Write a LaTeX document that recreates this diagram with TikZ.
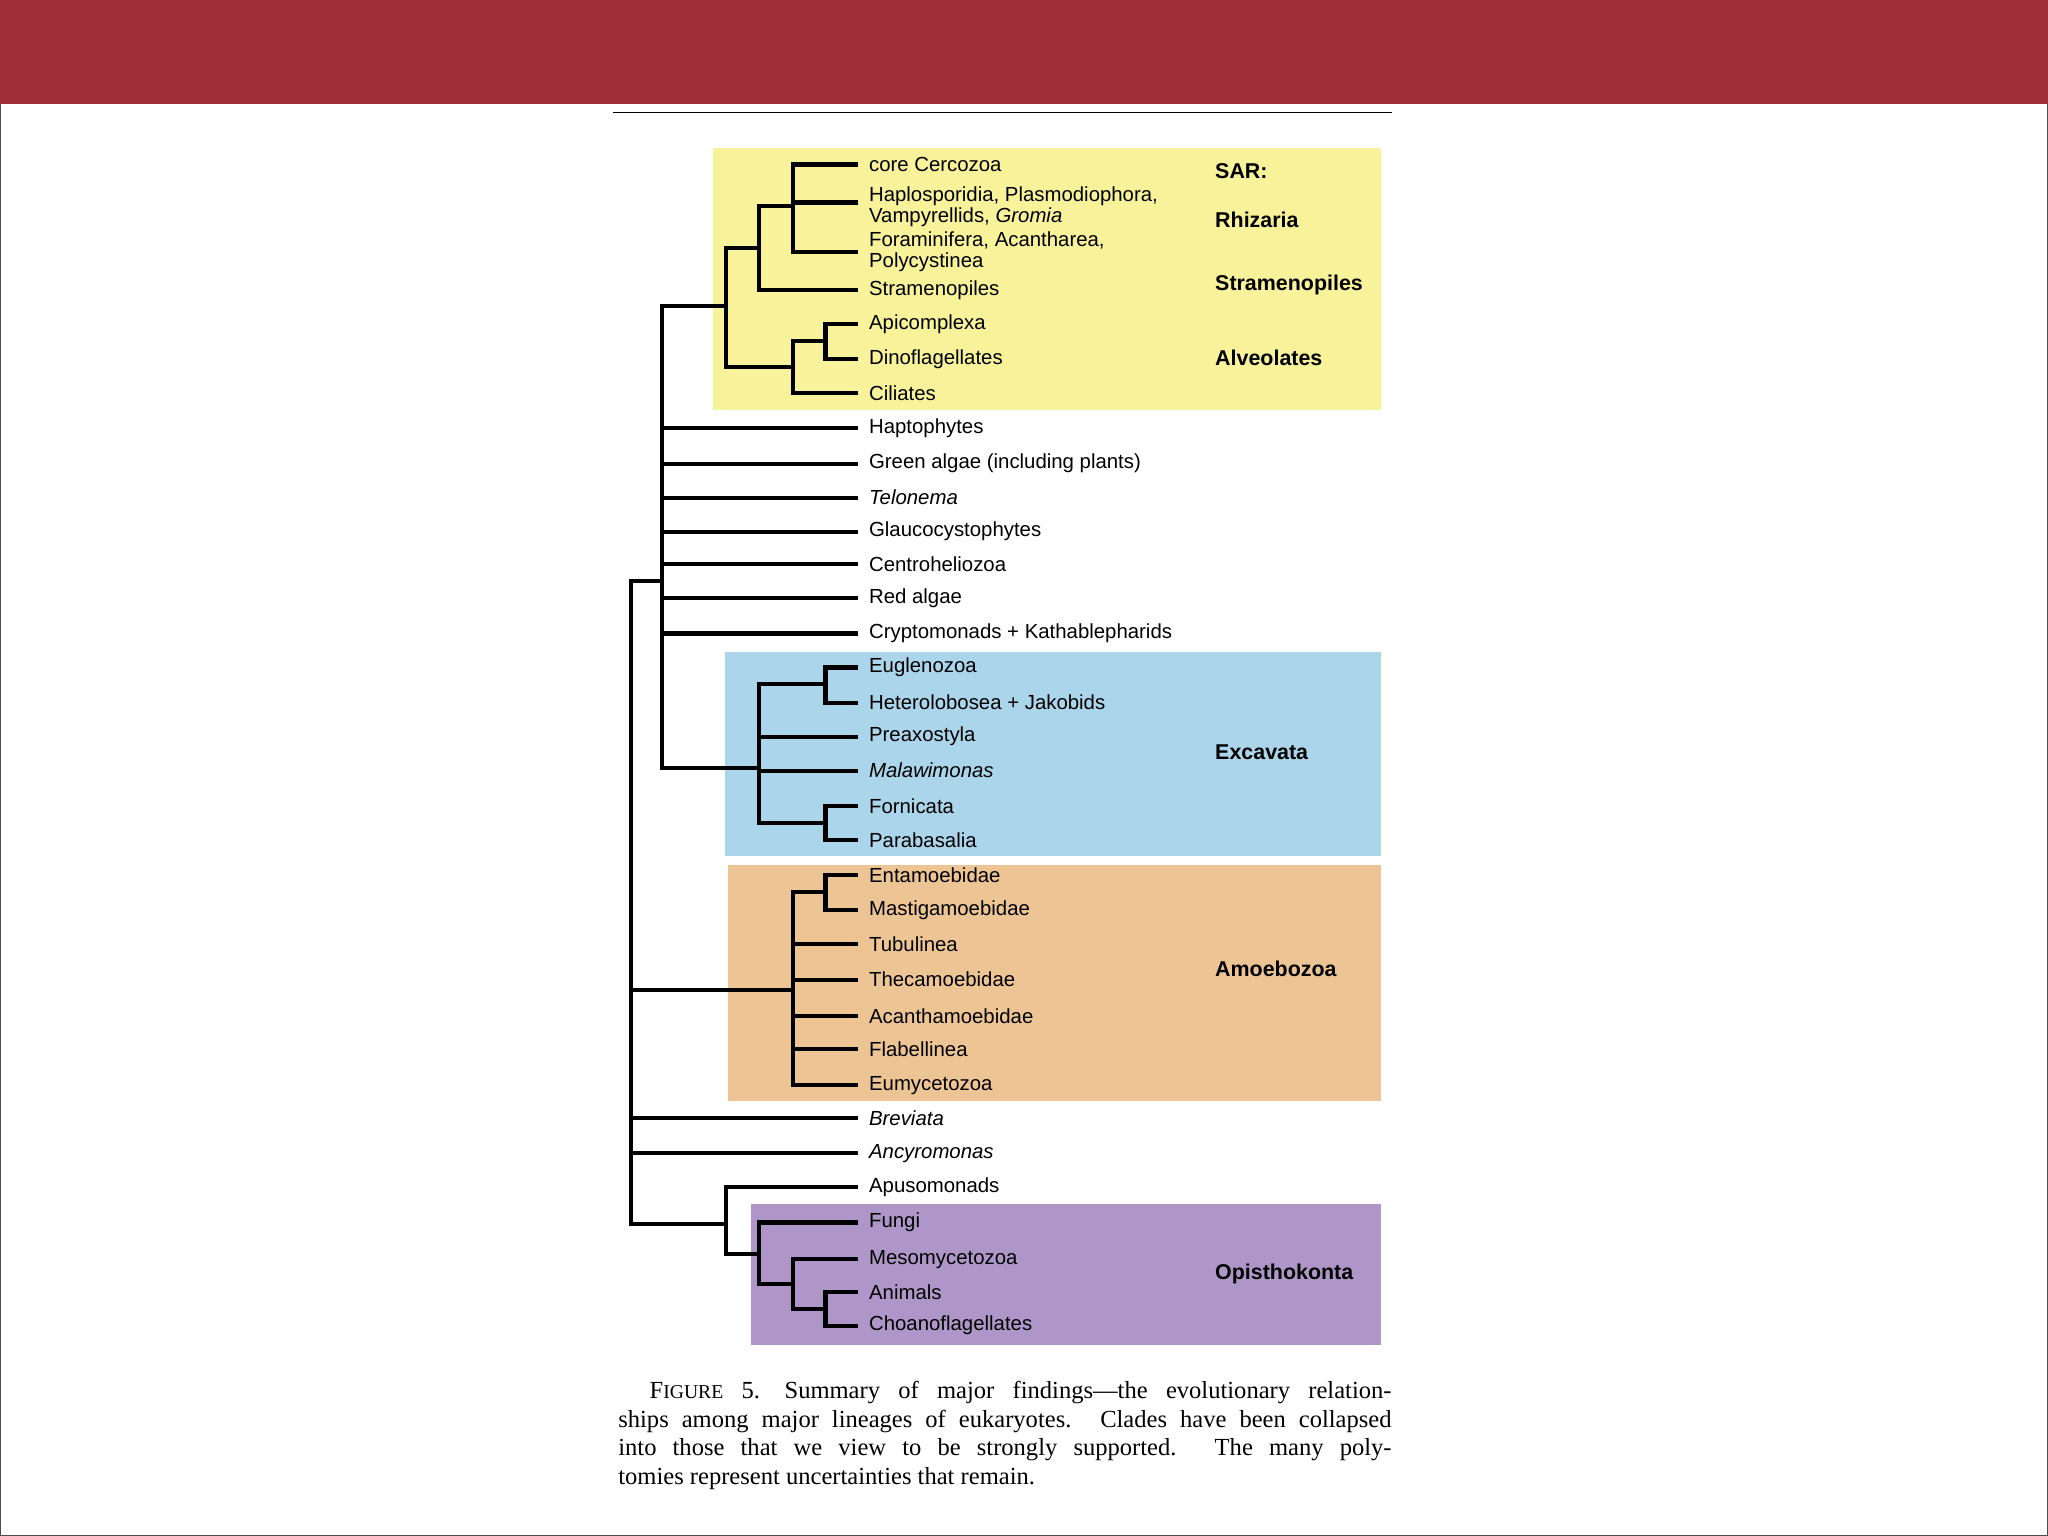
\documentclass[tikz,border=0pt]{standalone}
\usepackage{fontspec}
\setmainfont{Liberation Serif}
\setsansfont{Liberation Sans}
\begin{document}
\begin{tikzpicture}[x=0.5pt,y=-0.5pt,
  br/.style={line width=1.6pt,line cap=rect},
  leaf/.style={anchor=west,inner sep=0pt,font=\sffamily\fontsize{7.8}{8}\selectfont,align=left},
  grp/.style={anchor=west,inner sep=0pt,font=\sffamily\bfseries\fontsize{8.2}{9}\selectfont}]
\useasboundingbox (0,0) rectangle (1568,1176);
\fill[white] (0,0) rectangle (1568,1176);
\draw[line width=0.8pt,draw=black!70] (0,0) rectangle (1568,1176);
\fill[fill={rgb,255:red,160;green,46;blue,56}] (0,0) rectangle (1568,80);
\draw[line width=0.6pt] (469,86) -- (1066,86);
% boxes
\fill[fill={rgb,255:red,248;green,243;blue,155}] (546,113) rectangle (1057,314);
\fill[fill={rgb,255:red,170;green,213;blue,234}] (555,499) rectangle (1057,655);
\fill[fill={rgb,255:red,237;green,197;blue,149}] (557,662) rectangle (1057,843);
\fill[fill={rgb,255:red,174;green,151;blue,200}] (575,922) rectangle (1057,1030);
% leaves
\foreach \n/\y/\t in {cc/126/core Cercozoa, st/222/Stramenopiles, ap/248/Apicomplexa, di/275/Dinoflagellates, ci/301/Ciliates, ha/328/Haptophytes, gr/355/Green algae (including plants), te/381/\textit{Telonema}, gl/407/Glaucocystophytes, ce/432/Centroheliozoa, re/458/Red algae, cr/485/Cryptomonads + Kathablepharids, eu/511/Euglenozoa, he/538/Heterolobosea + Jakobids, pr/564/Preaxostyla, ma/590/\textit{Malawimonas}, fo/617/Fornicata, pa/643/Parabasalia, en/670/Entamoebidae, ms/697/Mastigamoebidae, tu/723/Tubulinea, th/750/Thecamoebidae, ac/778/Acanthamoebidae, fl/803/Flabellinea, ey/831/Eumycetozoa, bv/856/\textit{Breviata}, an/883/\textit{Ancyromonas}, au/909/Apusomonads, fu/936/Fungi, me/964/Mesomycetozoa, am/989/Animals, ch/1015/Choanoflagellates}
  \node[leaf] (\n) at (665,\y) {\t};
\node[leaf] (hp) at (665,158) {Haplosporidia, Plasmodiophora,\\Vampyrellids, \textit{Gromia}};
\node[leaf] (fa) at (665,193) {Foraminifera, Acantharea,\\Polycystinea};
% group labels
\node[grp] (gsar) at (930,131) {SAR:};
\node[grp] (grh) at (930,168) {Rhizaria};
\node[grp] (gst) at (930,218) {Stramenopiles};
\node[grp] (gal) at (930,274) {Alveolates};
\node[grp] (gex) at (930,576) {Excavata};
\node[grp] (gam) at (930,742) {Amoebozoa};
\node[grp] (gop) at (930,975) {Opisthokonta};
% tree
\draw[br] (655,126) -| (607,193) -- (655,193);
\draw[br] (607,155) -- (655,155);
\draw[br] (607,158) -- (581,158) |- (655,222);
\draw[br] (655,248) -| (632,275) -- (655,275);
\draw[br] (632,261) -- (607,261) |- (655,301);
\draw[br] (581,190) -- (556,190) |- (607,281);
\draw[br] (556,234) -- (507,234);
\draw[br] (507,234) -- (507,588);
\foreach \y in {328,355,381,407,432,458,485} \draw[br] (507,\y) -- (655,\y);
\draw[br] (655,511) -| (632,538) -- (655,538);
\draw[br] (655,617) -| (632,643) -- (655,643);
\draw[br] (632,524) -- (581,524) |- (632,630);
\draw[br] (581,564) -- (655,564);
\draw[br] (581,590) -- (655,590);
\draw[br] (507,588) -- (581,588);
\draw[br] (507,445) -- (483,445) -- (483,937);
\draw[br] (655,670) -| (632,697) -- (655,697);
\draw[br] (632,683) -- (607,683) |- (655,831);
\foreach \y in {723,750,778,803} \draw[br] (607,\y) -- (655,\y);
\draw[br] (483,758) -- (607,758);
\draw[br] (483,856) -- (655,856);
\draw[br] (483,883) -- (655,883);
\draw[br] (655,989) -| (632,1015) -- (655,1015);
\draw[br] (655,964) -| (607,1002) -- (632,1002);
\draw[br] (655,936) -| (581,983) -- (607,983);
\draw[br] (655,909) -| (556,960) -- (581,960);
\draw[br] (483,937) -- (556,937);
% caption
\node[anchor=north west,inner sep=0pt,text width=296pt,align=justify,
  font=\fontsize{9.4}{11}\selectfont] (cap) at (473,1057)
  {\hspace*{12pt}F\scalebox{0.8}{IGURE} 5.\quad Summary of major findings---the evolutionary relation-\linebreak ships among major lineages of eukaryotes. Clades have been collapsed\linebreak into those that we view to be strongly supported. The many poly-\linebreak tomies represent uncertainties that remain.};
\end{tikzpicture}
\end{document}
